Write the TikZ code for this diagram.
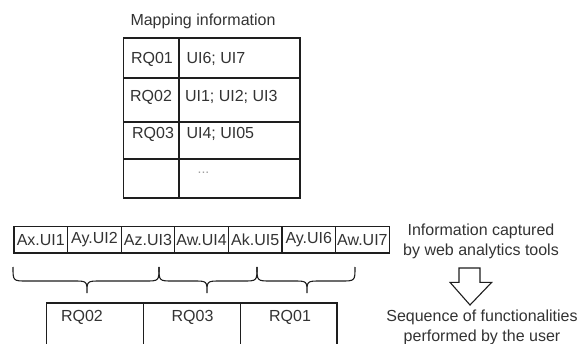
\documentclass[tikz,border=0pt]{standalone}
\usepackage{fontspec}
\setmainfont{Liberation Sans}
\definecolor{lin}{HTML}{1E1E1E}
\definecolor{txt}{HTML}{333333}
\begin{document}
\begin{tikzpicture}[x=1pt,y=-1pt,
  every node/.style={font=\fontsize{16}{20}\selectfont, text=txt, inner sep=0pt, outer sep=0pt},
  cell/.style={draw=lin, line width=1.4pt, rectangle, anchor=north west, minimum height=#1},
  lcell/.style={cell=#1, minimum width=55.5pt},
  rcell/.style={cell=#1, minimum width=121pt},
  uibox/.style={draw=lin, line width=1.3pt, rectangle, anchor=north west, minimum width=53.6pt, minimum height=26.3pt},
  rqbox/.style={draw=lin, line width=1.3pt, rectangle, anchor=north west, minimum width=96.8pt, minimum height=60pt},
  bracestyle/.style={draw=lin, line width=1.1pt},
  arrowstyle/.style={draw=lin, line width=1.1pt, line join=miter},
  note/.style={align=center, font=\fontsize{16}{19.5}\selectfont}]
\useasboundingbox (0,0) rectangle (577,344);
\clip (0,0) rectangle (577,344);
\fill[white] (0,0) rectangle (577,344);

% title
\node (title) at (203,21) {Mapping information};

% table cells
\node[lcell=40pt] (l1) at (123.5,38) {};
\node[rcell=40pt] (r1) at (179,38) {};
\node[lcell=44pt] (l2) at (123.5,78) {};
\node[rcell=44pt] (r2) at (179,78) {};
\node[lcell=37pt] (l3) at (123.5,122) {};
\node[rcell=37pt] (r3) at (179,122) {};
\node[lcell=39pt] (l4) at (123.5,159) {};
\node[rcell=39pt] (r4) at (179,159) {};

% table texts
\node (t1) at (152,59) {RQ01};
\node (t2) at (151,97) {RQ02};
\node (t3) at (153,134) {RQ03};
\node[anchor=west] (u1) at (186.5,59) {UI6; UI7};
\node[anchor=west] (u2) at (185,97) {UI1; UI2; UI3};
\node[anchor=west] (u3) at (186.5,134) {UI4; UI05};
\node[text=gray!75, font=\fontsize{14}{14}\selectfont] (dots) at (203.5,173) {...};

% UI boxes
\node[uibox] (a1) at (14,226.7) {Ax.UI1};
\node[uibox] (a2) at (67.6,226.7) {Ay.UI2};
\node[uibox] (a3) at (121.2,226.7) {Az.UI3};
\node[uibox] (a4) at (174.8,226.7) {Aw.UI4};
\node[uibox] (a5) at (228.4,226.7) {Ak.UI5};
\node[uibox] (a6) at (282.0,226.7) {Ay.UI6};
\node[uibox] (a7) at (335.6,226.7) {Aw.UI7};

% braces
\coordinate (b1l) at (13,267);
\coordinate (b1m) at (87,293);
\coordinate (b1r) at (159,267);
\coordinate (b2m) at (207,293);
\coordinate (b2r) at (257,267);
\coordinate (b3m) at (307,293);
\coordinate (b3r) at (355,267);
\draw[bracestyle] (b1l) .. controls (13,281) .. (27,281) -- (73,281) .. controls (87,281) .. (b1m)
  (b1m) .. controls (87,281) .. (101,281) -- (145,281) .. controls (159,281) .. (b1r);
\draw[bracestyle] (b1r) .. controls (159,281) .. (173,281) -- (193,281) .. controls (207,281) .. (b2m)
  (b2m) .. controls (207,281) .. (221,281) -- (243,281) .. controls (257,281) .. (b2r);
\draw[bracestyle] (b2r) .. controls (257,281) .. (271,281) -- (293,281) .. controls (307,281) .. (b3m)
  (b3m) .. controls (307,281) .. (321,281) -- (341,281) .. controls (355,281) .. (b3r);

% RQ boxes
\node[rqbox] (q1) at (46.7,303) {};
\node[rqbox] (q2) at (143.5,303) {};
\node[rqbox] (q3) at (240.3,303) {};
\node (q1t) at (82,317) {RQ02};
\node (q2t) at (192.5,317) {RQ03};
\node (q3t) at (290,317) {RQ01};

% right notes
\node[note] (info) at (481,241.5) {Information captured\\by web analytics tools};
\draw[arrowstyle] (459,268) -- (480,268) -- (480,282.3) -- (491.7,282.3) -- (470,305) -- (450,282.3) -- (459,282.3) -- cycle;
\node[note] (seq) at (482,327.5) {Sequence of functionalities\\performed by the user};
\end{tikzpicture}
\end{document}
